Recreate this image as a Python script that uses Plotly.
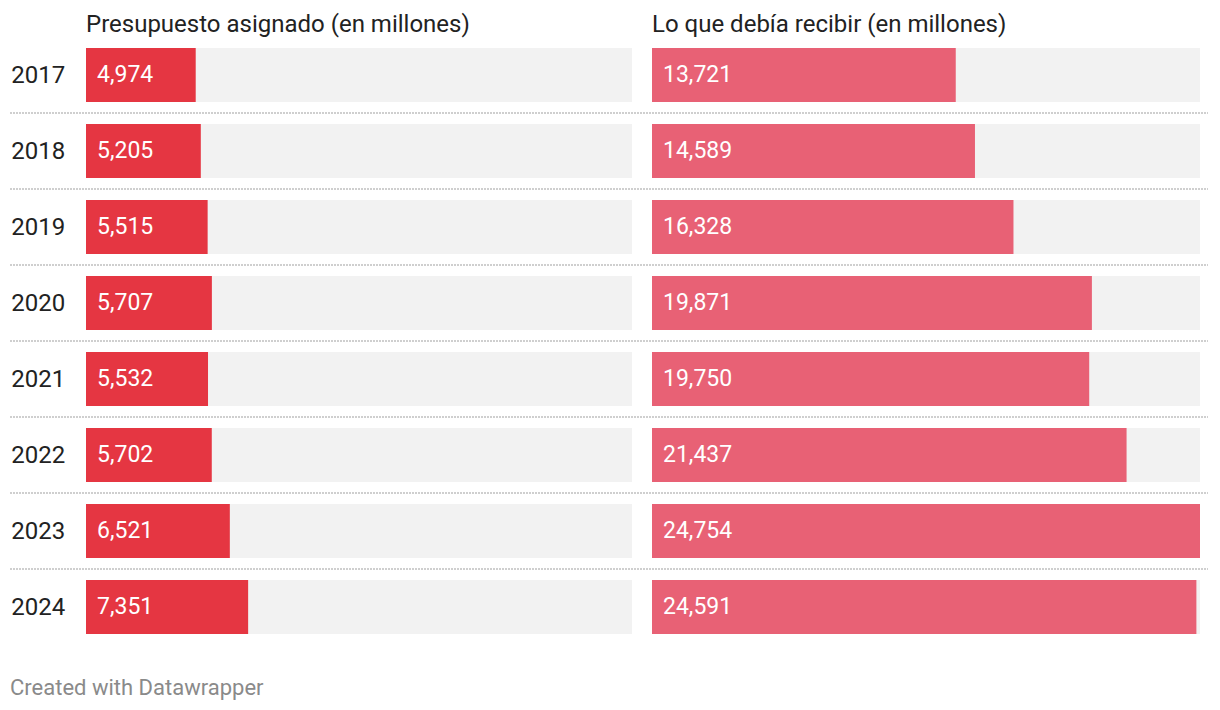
import plotly.graph_objects as go

years = ["2017", "2018", "2019", "2020", "2021", "2022", "2023", "2024"]
asignado = [4974, 5205, 5515, 5707, 5532, 5702, 6521, 7351]
debia = [13721, 14589, 16328, 19871, 19750, 21437, 24754, 24591]
titles = ["Presupuesto asignado (en millones)", "Lo que debía recibir (en millones)"]
footer = "Created with Datawrapper"

W, H = 1220, 710
FONT = "Roboto"
COL_L = "#e53642"
COL_R = "#e86175"
BG = "#f2f2f2"
xmax = max(max(asignado), max(debia))
BW = 0.7105

fig = go.Figure()
fig.add_trace(go.Bar(y=years, x=asignado, orientation="h", marker=dict(color=COL_L, line=dict(width=0)),
                     width=BW, xaxis="x", yaxis="y", hoverinfo="skip"))
fig.add_trace(go.Bar(y=years, x=debia, orientation="h", marker=dict(color=COL_R, line=dict(width=0)),
                     width=BW, xaxis="x2", yaxis="y2", hoverinfo="skip"))

shapes = []
annotations = []
n = len(years)
for i, yr in enumerate(years):
    for xr, yr_ref in (("x domain", "y"), ("x2 domain", "y2")):
        shapes.append(dict(type="rect", xref=xr, yref=yr_ref, x0=0, x1=1,
                           y0=i - BW / 2, y1=i + BW / 2, fillcolor=BG, line=dict(width=0), layer="below"))
    if i < n - 1:
        shapes.append(dict(type="line", xref="paper", yref="y", x0=10 / W, x1=1208 / W,
                           y0=i + 0.5, y1=i + 0.5, line=dict(color="#cfcfcf", width=2, dash="2px,1px")))
for vals, xa, ya in ((asignado, "x", "y"), (debia, "x2", "y2")):
    for i, v in enumerate(vals):
        annotations.append(dict(x=0, y=i, xref=xa, yref=ya, text=f"{v:,}", showarrow=False,
                                xanchor="left", yanchor="middle", xshift=9, yshift=0.5,
                                font=dict(family=FONT, size=23, color="white")))

annotations.append(dict(x=84 / W, y=1, xref="paper", yref="paper", yshift=13, text=titles[0], showarrow=False,
                        xanchor="left", yanchor="middle", font=dict(family=FONT, size=24, color="#222")))
annotations.append(dict(x=650 / W, y=1, xref="paper", yref="paper", yshift=13, text=titles[1], showarrow=False,
                        xanchor="left", yanchor="middle", font=dict(family=FONT, size=24, color="#222")))
annotations.append(dict(x=8 / W, y=0, xref="paper", yref="paper", yshift=-42, text=footer, showarrow=False,
                        xanchor="left", yanchor="middle", font=dict(family=FONT, size=22, color="#8a8a8a")))

axis_x = dict(range=[0, xmax], showgrid=False, zeroline=False, showticklabels=False, fixedrange=True)
axis_y = dict(type="category", categoryorder="array", categoryarray=years, autorange=False, range=[n - 0.5, -0.5],
              showgrid=False, zeroline=False, fixedrange=True)

fig.update_layout(
    width=W, height=H,
    margin=dict(l=0, r=0, t=37, b=65),
    paper_bgcolor="white", plot_bgcolor="white",
    showlegend=False, barmode="overlay",
    xaxis=dict(domain=[86 / W, 632 / W], anchor="y", **axis_x),
    xaxis2=dict(domain=[652 / W, 1200 / W], anchor="y2", **axis_x),
    yaxis=dict(anchor="x", ticks="outside", ticklen=15, tickcolor="rgba(0,0,0,0)",
               tickfont=dict(family=FONT, size=24, color="#222"), **axis_y),
    yaxis2=dict(anchor="x2", showticklabels=False, **axis_y),
    shapes=shapes, annotations=annotations,
    font=dict(family=FONT),
)
fig.write_html("out.html")
